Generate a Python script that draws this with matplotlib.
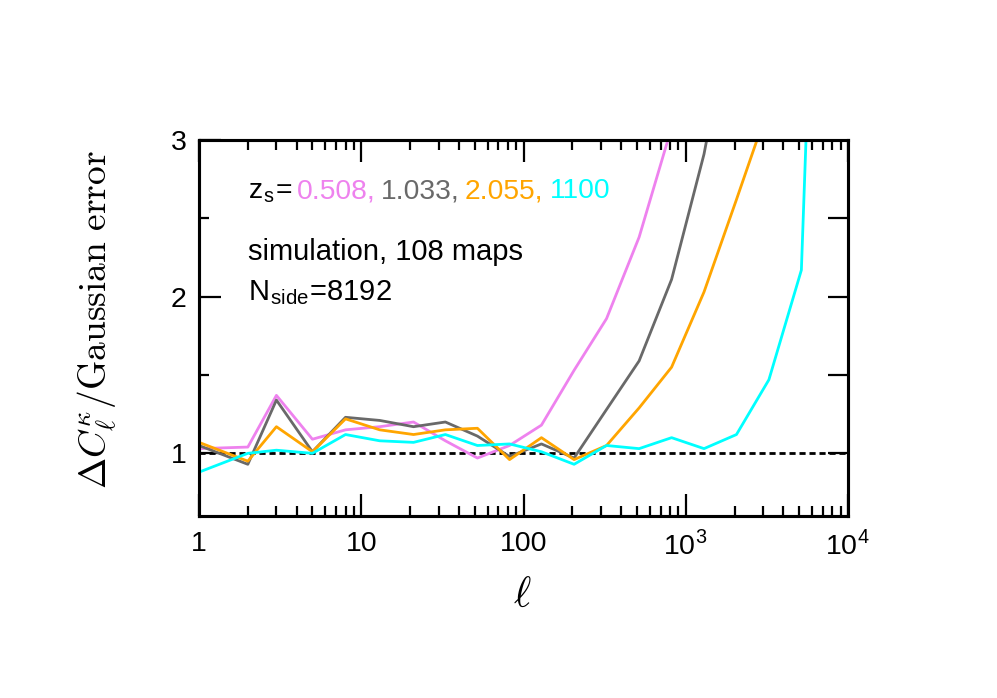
import numpy as np
import matplotlib
matplotlib.use("Agg")
import matplotlib.pyplot as plt
from matplotlib.ticker import FixedLocator, NullFormatter

plt.rcParams['font.family'] = ['Liberation Sans', 'DejaVu Sans']
plt.rcParams['mathtext.fontset'] = 'cm'

# ---- data ----
ell = [1, 2, 3, 5, 8, 13, 21, 33, 52, 82, 129, 205, 325, 516, 818, 1296, 2054, 3255, 5160, 8178]

z0508 = [1.03, 1.04, 1.37, 1.09, 1.15, 1.17, 1.20, 1.08, 0.97, 1.05, 1.18, 1.53, 1.86, 2.38, 3.08, 4.5]
z1033 = [1.05, 0.93, 1.34, 1.01, 1.23, 1.21, 1.17, 1.20, 1.11, 0.98, 1.06, 0.97, 1.28, 1.59, 2.11, 2.91, 4.0]
z2055 = [1.07, 0.95, 1.17, 1.01, 1.22, 1.15, 1.12, 1.15, 1.16, 0.96, 1.10, 0.96, 1.05, 1.29, 1.55, 2.03, 2.62, 3.22]
z1100 = [0.88, 1.00, 1.02, 1.00, 1.12, 1.08, 1.07, 1.12, 1.05, 1.06, 1.01, 0.93, 1.05, 1.03, 1.10, 1.03, 1.12, 1.47, 2.17, 8.0]

series = [("0.508,", z0508, "#ee82ee"),
          ("1.033,", z1033, "#696969"),
          ("2.055,", z2055, "#ffa500"),
          ("1100", z1100, "#00ffff")]

xticks = [1, 10, 100, 1000, 10000]
xticklabels = ["1", "10", "100", r"10$^\mathregular{3}$", r"10$^\mathregular{4}$"]
yticks = [1, 2, 3]
yticklabels = ["1", "2", "3"]

W, H = 997, 698
fig = plt.figure(figsize=(W / 100, H / 100), dpi=100)
L, R, T, B = 199, 848, 140, 516
ax = fig.add_axes([L / W, 1 - B / H, (R - L) / W, (B - T) / H])

for name, vals, col in series:
    ax.plot(ell[:len(vals)], vals, color=col, lw=2.0, zorder=3)

ax.axhline(1, color='black', lw=2.0, ls=(0, (2.2, 1.4)), zorder=2)

ax.set_xscale('log')
ax.set_xlim(1, 1e4)
ax.set_ylim(0.6, 3)

ax.xaxis.set_major_locator(FixedLocator(xticks))
ax.set_xticklabels(xticklabels)
minor = [m * 10 ** d for d in range(4) for m in range(2, 10)]
ax.xaxis.set_minor_locator(FixedLocator(minor))
ax.xaxis.set_minor_formatter(NullFormatter())
ax.set_yticks(yticks)
ax.set_yticklabels(yticklabels)
ax.yaxis.set_minor_locator(FixedLocator([1.5, 2.5]))

ax.tick_params(which='both', direction='in', top=True, right=False, width=1.6)
ax.tick_params(which='major', length=15.5, labelsize=20.5)
ax.tick_params(which='minor', length=7)
ax.tick_params(axis='x', pad=11)
ax.tick_params(axis='y', pad=9)

ax2 = ax.twinx()
ax2.set_ylim(0.6, 3)
ax2.set_yticks([1, 1.5, 2, 2.5])
ax2.tick_params(direction='in', length=14.5, width=1.6, labelright=False)

for a in (ax, ax2):
    for s in a.spines.values():
        s.set_linewidth(2.2)

# annotation text
def px(x, y):
    return x / W, 1 - y / H

fs = 21
fs_z = 20.3
fig.text(*px(248, 198), r"z$_\mathregular{s}$=", fontsize=fs_z, color='black', va='baseline')
starts = [297, 381, 465, 550]
for (name, vals, col), x0 in zip(series, starts):
    fig.text(*px(x0, 198), name, fontsize=fs_z, color=col, va='baseline')
fig.text(*px(248, 260), "simulation, 108 maps", fontsize=fs, va='baseline')
fig.text(*px(248, 300), r"N$_\mathregular{side}$=8192", fontsize=fs, va='baseline')

fig.text(*px(97, 320), r"$\Delta C_\ell^\kappa/\mathrm{Gaussian\ error}$", fontsize=27,
         rotation=90, ha='center', va='center')
fig.text(*px(522, 596), r"$\ell$", fontsize=30, ha='center', va='center')

fig.savefig("out.png", dpi=100)
